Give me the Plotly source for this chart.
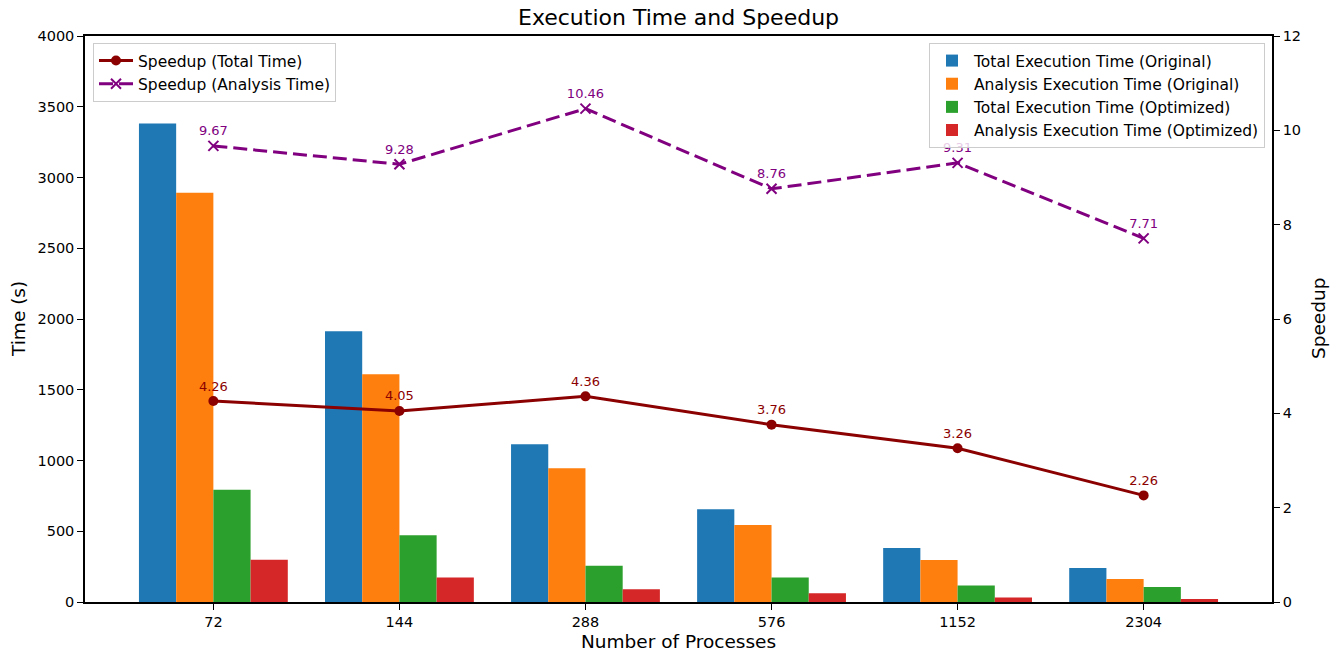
import plotly.graph_objects as go

processes = ["72", "144", "288", "576", "1152", "2304"]
total_orig = [3381, 1913, 1115, 655, 382, 240]
analysis_orig = [2893, 1609, 945, 544, 297, 163]
total_opt = [794, 472, 256, 174, 117, 106]
analysis_opt = [299, 173, 90, 62, 32, 21]
speedup_total = [4.26, 4.05, 4.36, 3.76, 3.26, 2.26]
speedup_analysis = [9.67, 9.28, 10.46, 8.76, 9.31, 7.71]

FONT = "DejaVu Sans"
W, H = 1336, 652
L, R, T, B = 85, 64, 36, 50
xs = list(range(len(processes)))

fig = go.Figure()
bar_series = [
    ("Total Execution Time (Original)", total_orig, "#1f77b4"),
    ("Analysis Execution Time (Original)", analysis_orig, "#ff7f0e"),
    ("Total Execution Time (Optimized)", total_opt, "#2ca02c"),
    ("Analysis Execution Time (Optimized)", analysis_opt, "#d62728"),
]
for name, vals, col in bar_series:
    fig.add_trace(go.Bar(x=xs, y=vals, name=name, marker=dict(color=col, line=dict(width=0)),
                         legend="legend2", yaxis="y"))

fig.add_trace(go.Scatter(
    x=xs, y=speedup_total, name="Speedup (Total Time)", yaxis="y2", legend="legend",
    mode="lines+markers+text", text=[f"{v:.2f}" for v in speedup_total],
    textposition="top center", textfont=dict(color="#8b0000", size=13, family=FONT),
    line=dict(color="#8b0000", width=3), marker=dict(color="#8b0000", size=10, symbol="circle")))
fig.add_trace(go.Scatter(
    x=xs, y=speedup_analysis, name="Speedup (Analysis Time)", yaxis="y2", legend="legend",
    mode="lines+markers+text", text=[f"{v:.2f}" for v in speedup_analysis],
    textposition="top center", textfont=dict(color="#800080", size=13, family=FONT),
    line=dict(color="#800080", width=3, dash="14px,6px"),
    marker=dict(color="#800080", size=10, symbol="x-thin", line=dict(color="#800080", width=2))))

axis_common = dict(showline=True, linecolor="black", linewidth=1.5, ticks="outside",
                   ticklen=6, tickwidth=1.2, tickcolor="black", showgrid=False, zeroline=False,
                   automargin=False, tickfont=dict(size=14.5, color="black", family=FONT))

ph = H - T - B
def ypix(py):
    return 1 - (py - T) / ph
def xpix(px):
    return (px - L) / (W - L - R)

annots = [
    dict(text="Execution Time and Speedup", x=0.5, y=ypix(18), font=dict(size=22)),
    dict(text="Number of Processes", x=0.5, y=ypix(641), font=dict(size=18.5)),
    dict(text="Time (s)", x=xpix(18), y=0.5, textangle=-90, font=dict(size=18.5)),
    dict(text="Speedup", x=xpix(1318), y=0.5, textangle=-90, font=dict(size=18.5)),
]
for a in annots:
    a.update(xref="paper", yref="paper", xanchor="center", yanchor="middle", showarrow=False)
    a["font"].update(family=FONT, color="black")

fig.update_layout(
    width=W, height=H,
    margin=dict(l=L, r=R, t=T, b=B, autoexpand=False),
    paper_bgcolor="white", plot_bgcolor="white",
    font=dict(family=FONT, color="black"),
    annotations=annots,
    barmode="group", bargap=0.2, bargroupgap=0,
    xaxis=dict(**axis_common, mirror=True, tickmode="array", tickvals=xs, ticktext=processes,
               range=[-0.69, 5.69]),
    yaxis=dict(**axis_common, range=[0, 4000], dtick=500),
    yaxis2=dict(**axis_common, overlaying="y", side="right", range=[0, 12], dtick=2),
    legend=dict(x=xpix(93), y=ypix(43), xanchor="left", yanchor="top",
                bgcolor="rgba(255,255,255,0.8)", bordercolor="#cccccc", borderwidth=1,
                font=dict(size=15.5, family=FONT), tracegroupgap=0, itemwidth=34),
    legend2=dict(x=xpix(1265), y=ypix(43), xanchor="right", yanchor="top",
                 bgcolor="rgba(255,255,255,0.8)", bordercolor="#cccccc", borderwidth=1,
                 font=dict(size=15.5, family=FONT), tracegroupgap=0, itemwidth=34),
)

fig.write_html("out.html", config={"displayModeBar": False},
               post_script="document.body.style.margin='0px';")
